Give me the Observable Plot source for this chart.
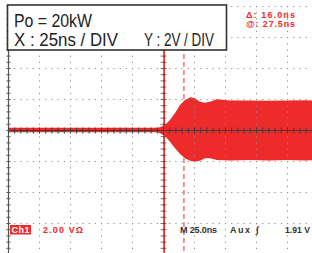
<!DOCTYPE html>
<html>
<head>
<meta charset="utf-8">
<script src="https://cdn.jsdelivr.net/npm/d3@7"></script>
<script src="https://cdn.jsdelivr.net/npm/@observablehq/plot@0.6"></script>
<style>
  html, body { margin: 0; padding: 0; background: #fff; overflow: hidden; }
  #wrap { position: relative; width: 312px; height: 253px; overflow: hidden; }
  #wrap > svg { position: absolute; left: 0; top: 0; }
</style>
</head>
<body>
<div id="wrap"></div>
<script>
// ---- data ----
// time in ns (0 = screen centre), envelope of the drain voltage in V
const traceTime  = [-125, -10, -5, -2.4, 1.6, 5.6, 9.7, 13.7, 17.7, 21.8, 25.8, 29.8, 33.9, 37.9, 43.5, 54, 70, 85, 100, 115, 125];
const traceUpper = [0.14, 0.14, 0.14, 0.17, 0.32, 0.65, 1.10, 1.61, 1.94, 2.11, 2.05, 1.83, 1.76, 1.83, 1.98, 1.90, 1.90, 1.88, 1.90, 1.92, 1.90];
const traceLower = [-0.14, -0.14, -0.14, -0.21, -0.39, -0.75, -1.18, -1.55, -1.83, -1.98, -2.05, -1.98, -1.83, -1.83, -1.94, -1.96, -1.94, -1.96, -1.94, -1.96, -1.94];

// graticule: 10 x 25 ns divisions, 8 x 2 V divisions
const divTimes = [-125, -100, -75, -50, -25, 0, 25, 50, 75, 100, 125];
const divVolts = [-8, -6, -4, -2, 0, 2, 4, 6, 8];

// cursors (ns)
const cursorTimes = [0.8, 16.5];

// texts
const titleLine1 = "Po = 20kW";
const titleLineX = "X : 25ns / DIV";
const titleLineY = "Y : 2V / DIV";
const cursorDelta = "Δ: 16.0ns";
const cursorAt = "@: 27.5ns";
const chLabel = "Ch1";
const chScale = "2.00 VΩ";
const timeBase = "M 25.0ns";
const trigSrc = "Aux";
const trigSym = "∫";
const trigLevel = "1.91 V";

// ---- drawing ----
const RED = "#ee2b2b";
const AXIS = "#3c3c3c";
const trace = traceTime.map((t, i) => ({t, hi: traceUpper[i], lo: traceLower[i]}));
const minorT = d3.range(-125, 125.01, 5);
const minorV = d3.range(-8, 8.01, 0.4);

const vTick = {draw(ctx, size) { const r = Math.sqrt(size / Math.PI); ctx.moveTo(0, -r); ctx.lineTo(0, r); }};
const hTick = {draw(ctx, size) { const r = Math.sqrt(size / Math.PI); ctx.moveTo(-r, 0); ctx.lineTo(r, 0); }};

const chart = Plot.plot({
  width: 312,
  height: 253,
  marginLeft: 8,
  marginRight: -6,
  marginTop: 6,
  marginBottom: -1,
  x: {domain: [-125, 125], axis: null},
  y: {domain: [-8, 8], axis: null},
  style: {background: "transparent", overflow: "hidden"},
  marks: [
    Plot.areaY(trace, {x: "t", y1: "lo", y2: "hi", fill: RED, curve: "linear"}),
    Plot.ruleX(divTimes, {stroke: "#8c8c8c", strokeWidth: 1, strokeDasharray: "1.2,5"}),
    Plot.ruleY(divVolts, {stroke: "#8c8c8c", strokeWidth: 1, strokeDasharray: "1.2,5"}),
    Plot.ruleY([0], {stroke: AXIS, strokeWidth: 1}),
    Plot.ruleX([0], {stroke: AXIS, strokeWidth: 1, strokeOpacity: 0.6}),
    Plot.ruleX([-125], {stroke: "#555", strokeWidth: 1.2}),
    Plot.ruleX(cursorTimes.slice(0, 1), {stroke: RED, strokeWidth: 1}),
    Plot.ruleX(cursorTimes.slice(1), {stroke: RED, strokeWidth: 1, strokeDasharray: "5,3"}),
    Plot.dot(minorT, {x: d => d, y: () => 0, symbol: vTick, r: 3, stroke: AXIS, strokeWidth: 1}),
    Plot.dot(minorV, {x: () => 0, y: d => d, symbol: hTick, r: 3, stroke: AXIS, strokeWidth: 1, strokeOpacity: 0.7}),
    Plot.dot(minorV, {x: () => -125, y: d => d, symbol: hTick, r: 2, stroke: "#555", strokeWidth: 1})
  ]
});

const wrap = document.getElementById("wrap");
wrap.appendChild(chart);

// overlay with the scope's on-screen annotations
const ns = "http://www.w3.org/2000/svg";
const ov = document.createElementNS(ns, "svg");
ov.setAttribute("width", 312);
ov.setAttribute("height", 253);
wrap.appendChild(ov);
function el(tag, attrs, text) {
  const e = document.createElementNS(ns, tag);
  for (const k in attrs) e.setAttribute(k, attrs[k]);
  if (text != null) e.textContent = text;
  ov.appendChild(e);
  return e;
}
el("rect", {x: 7.5, y: 5, width: 219, height: 45, fill: "#fff", stroke: "#333", "stroke-width": 1.6});
const big = {"font-family": "Liberation Sans, Arial, sans-serif", "font-size": 19, fill: "#222", lengthAdjust: "spacingAndGlyphs"};
el("text", {...big, x: 14, y: 27, textLength: 78}, titleLine1);
el("text", {...big, x: 14, y: 46, textLength: 104}, titleLineX);
el("text", {...big, x: 144, y: 46, textLength: 70}, titleLineY);

const small = {"font-family": "Liberation Sans, Arial, sans-serif", "font-size": 9, "font-weight": "bold", lengthAdjust: "spacing"};
el("text", {...small, x: 246, y: 17.5, fill: RED, textLength: 49}, cursorDelta);
el("text", {...small, x: 246, y: 26.5, fill: RED, textLength: 49}, cursorAt);

el("rect", {x: 10, y: 225, width: 21, height: 9.5, fill: RED});
el("text", {...small, x: 11.5, y: 233.3, fill: "#fff", textLength: 18}, chLabel);
el("text", {...small, x: 43, y: 233, fill: RED, textLength: 40}, chScale);
el("text", {...small, x: 180, y: 233, fill: "#333", textLength: 37}, timeBase);
el("text", {...small, x: 230, y: 233, fill: "#333", textLength: 20}, trigSrc);
el("text", {...small, x: 256, y: 233, fill: "#333"}, trigSym);
el("text", {...small, x: 285, y: 233, fill: "#333", textLength: 25, lengthAdjust: "spacingAndGlyphs"}, trigLevel);
</script>
</body>
</html>
